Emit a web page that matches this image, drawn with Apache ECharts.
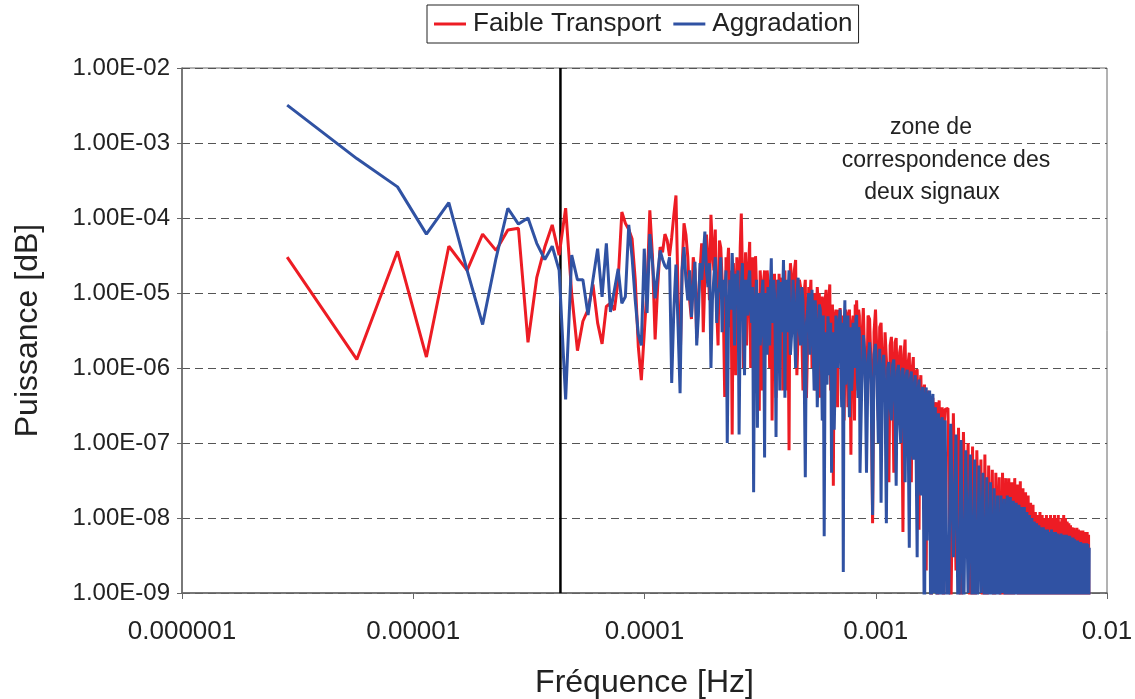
<!DOCTYPE html>
<html lang="fr">
<head>
    <meta charset="UTF-8">
    <title>Puissance spectrale</title>
    <script src="https://cdn.jsdelivr.net/npm/echarts@6.0.0/dist/echarts.min.js"></script>
    <style>
        html, body { margin: 0; padding: 0; background: #fff; }
        #chart { width: 1135px; height: 699px; }
    </style>
</head>
<body>
<div id="chart"></div>
<script type="text/javascript">
    // spectrum bins (index of the frequency step), same for both signals
    var binWidth = 2.85e-6;   // Hz
    var bins = [
        1, 2, 3, 4, 5, 6, 7, 8, 9, 10, 11, 12, 13, 14, 15, 16, 17, 18, 19, 20,
        21, 22, 23, 24, 25, 26, 27, 28, 29, 30, 31, 32, 33, 34, 35, 36, 37, 38, 39, 40,
        41, 42, 43, 44, 45, 46, 47, 48, 49, 50,
        51, 52, 53, 54, 55, 56, 57, 58, 59, 60, 61, 62, 63, 64, 65, 66, 67, 68, 69, 70,
        71, 72, 73, 74, 75, 76, 77, 78, 79, 80, 81, 82, 83, 84, 85, 86, 87, 88, 89, 90,
        91, 92, 93, 94, 95, 96, 97, 98, 99, 100, 101, 102, 103, 104, 105, 106, 107, 108, 109, 110,
        111, 112, 113, 114, 115, 116, 117, 118, 119, 120, 121, 122, 123, 124, 125, 126, 127, 128, 129, 130,
        131, 132, 133, 134, 135, 136, 137, 138, 139, 140, 141, 142, 143, 144, 145, 146, 147, 148, 149, 150,
        152, 154, 156, 158, 160, 162, 164, 166, 168, 170, 172, 174, 176, 178, 180, 182, 184, 186, 188, 190,
        192, 194, 196, 198, 200, 202, 204, 206, 208, 210, 212, 214, 216, 218, 220, 222, 224, 226, 228, 230,
        232, 234, 236, 238, 240, 242, 244, 246, 248, 250, 252, 254, 256, 258, 260, 262, 264, 266, 268, 270,
        272, 274, 276, 278, 280, 282, 284, 286, 288, 290, 292, 294, 296, 298, 300,
        305, 310, 315, 320, 325, 330, 335, 340, 345, 350, 355, 360, 365, 370, 375, 380, 385, 390, 395, 400,
        405, 410, 415, 420, 425, 430, 435, 440, 445, 450, 455, 460, 465, 470, 475, 480, 485, 490, 495, 500,
        505, 510, 515, 520, 525, 530, 535, 540, 545, 550, 555, 560, 565, 570, 575, 580, 585, 590, 595, 600,
        605, 610, 615, 620, 625, 630, 635, 640, 645, 650, 655, 660, 665, 670, 675, 680, 685, 690, 695, 700,
        720, 740, 760, 780, 800, 820, 840, 860, 880, 900, 920, 940, 960, 980, 1000, 1020, 1040, 1060, 1080, 1100,
        1120, 1140, 1160, 1180, 1200, 1220, 1240, 1260, 1280, 1300, 1320, 1340, 1360, 1380, 1400, 1420, 1440, 1460, 1480, 1500,
        1520, 1540, 1560, 1580, 1600, 1620, 1640, 1660, 1680, 1700, 1720, 1740, 1760, 1780, 1800, 1820, 1840, 1860, 1880, 1900,
        1920, 1940, 1960, 1980, 2000, 2020, 2040, 2060, 2080, 2100, 2120, 2140, 2160, 2180, 2200, 2220, 2240, 2260, 2280, 2300,
        2320, 2340, 2360, 2380, 2400, 2420, 2440, 2460, 2480, 2500, 2520, 2540, 2560, 2580, 2600, 2620, 2640, 2660, 2680, 2700,
        2720, 2740, 2760, 2780, 2800, 2820, 2840, 2860, 2880, 2900, 2920, 2940
    ];

    // Faible Transport
    var redPower = [
        // bins 1-50
        3.0e-5, 1.3e-6, 3.6e-5, 1.4e-6, 4.2e-5, 2.0e-5, 6.1e-5, 3.7e-5, 6.9e-5, 7.3e-5,
        2.2e-6, 1.6e-5, 4.1e-5, 8.1e-5, 3.2e-5, 1.35e-4, 9.7e-6, 1.7e-6, 4.2e-6, 6.0e-6,
        1.3e-5, 4.0e-6, 2.1e-6, 6.6e-6, 7.3e-6, 5.9e-6, 1.5e-5, 1.2e-4, 8.5e-5, 7.0e-5,
        5.3e-5, 1.5e-5, 1.9e-6, 6.9e-7, 2.9e-6, 1.2e-5, 1.27e-4, 3.0e-5, 2.4e-6, 1.2e-5,
        4.1e-5, 3.5e-5, 6.1e-5, 5.0e-5, 3.1e-5, 5.5e-5, 1.1e-4, 2.0e-4, 1.0e-5, 9.6e-7,
        // bins 51-150
        2.0e-5, 8.5e-5, 6.0e-5, 3.0e-5, 8.0e-6, 4.5e-6, 3.0e-5, 2.0e-5, 2.5e-6, 9.0e-6,
        2.0e-5, 4.6e-5, 3.0e-6, 1.5e-5, 6.0e-5, 3.0e-5, 8.0e-6, 1.1e-4, 4.0e-5, 2.0e-5,
        7.0e-5, 6.0e-6, 2.0e-6, 5.0e-5, 4.0e-5, 1.5e-5, 5.0e-6, 4.1e-7, 3.0e-5, 2.0e-5,
        4.0e-5, 3.5e-6, 2.0e-5, 1.3e-7, 2.5e-5, 1.0e-5, 8.0e-7, 3.0e-5, 1.5e-5, 4.0e-6,
        4.0e-5, 1.15e-4, 2.0e-5, 1.0e-6, 1.0e-5, 3.5e-5, 2.0e-6, 8.0e-6, 2.5e-5, 4.8e-5,
        1.0e-6, 5.0e-6, 3.0e-5, 1.5e-5, 4.0e-6, 3.1e-5, 1.2e-5, 2.0e-6, 8.0e-6, 2.7e-7,
        2.0e-5, 1.2e-5, 5.0e-7, 2.5e-6, 1.5e-5, 2.0e-5, 2.0e-6, 6.0e-6, 2.0e-5, 1.5e-5,
        5.0e-6, 1.0e-6, 1.5e-5, 1.0e-5, 2.0e-7, 2.5e-6, 1.2e-5, 1.8e-5, 6.0e-6, 4.0e-7,
        1.5e-5, 8.0e-6, 1.0e-6, 1.8e-5, 8.0e-6, 1.5e-6, 1.6e-5, 1.2e-5, 5.0e-7, 3.0e-6,
        1.2e-5, 2.0e-5, 3.0e-6, 5.0e-7, 1.0e-5, 1.2e-5, 1.5e-6, 8.0e-8, 6.0e-6, 2.5e-5,
        // bins 152-300
        1.5e-5, 5.0e-6, 2.0e-5, 2.75e-5, 8.0e-7, 3.0e-6, 1.5e-5, 1.2e-5, 3.0e-6, 5.0e-7,
        1.0e-5, 1.5e-5, 4.0e-7, 2.0e-6, 1.2e-5, 8.0e-6, 1.5e-5, 1.0e-6, 6.0e-6, 1.0e-5,
        5.0e-7, 3.0e-6, 1.2e-5, 7.0e-6, 1.0e-5, 4.0e-7, 5.0e-6, 9.0e-6, 2.0e-7, 2.0e-6,
        8.0e-6, 1.1e-5, 4.0e-6, 1.0e-6, 8.0e-6, 1.3e-5, 5.0e-7, 2.0e-6, 7.0e-6, 2.7e-8,
        4.0e-6, 5.0e-6, 6.0e-6, 1.5e-6, 3.0e-7, 6.0e-6, 2.0e-6, 6.3e-6, 4.0e-6, 8.0e-7,
        5.0e-6, 4.0e-6, 2.0e-7, 1.0e-6, 6.0e-6, 5.0e-6, 1.5e-6, 3.0e-7, 5.0e-6, 6.0e-6,
        1.0e-6, 7.0e-8, 3.0e-6, 4.0e-6, 5.0e-6, 1.5e-6, 2.0e-7, 7.0e-6, 3.0e-6, 8.0e-6,
        4.0e-6, 5.0e-7, 6.0e-6, 5.0e-6, 1.0e-6,
        // bins 305-700
        2.0e-6, 6.3e-6, 1.0e-6, 3.0e-7, 5.0e-6, 4.5e-6, 1.0e-6, 8.5e-9, 3.0e-6, 6.0e-6,
        1.5e-6, 2.0e-7, 3.5e-6, 4.0e-6, 8.0e-7, 5.0e-7, 3.0e-6, 3.0e-6, 6.0e-7, 3.0e-8,
        2.0e-6, 2.6e-6, 8.0e-7, 4.0e-8, 2.2e-6, 2.5e-6, 5.0e-7, 2.0e-7, 1.6e-6, 2.0e-6,
        4.0e-7, 6.5e-9, 1.5e-6, 2.4e-6, 3.0e-7, 1.0e-7, 1.2e-6, 1.6e-6, 2.0e-7, 3.0e-8,
        1.0e-6, 1.4e-6, 2.0e-7, 2.0e-7, 9.0e-7, 9.6e-7, 1.5e-7, 7.0e-9, 6.0e-7, 8.0e-7,
        1.0e-7, 5.0e-8, 5.0e-7, 6.0e-7, 1.0e-7, 2.0e-9, 4.0e-7, 5.0e-7, 5.0e-8, 4.3e-7,
        2.0e-7, 3.0e-10, 3.5e-7, 4.0e-7, 3.0e-8, 8.0e-9, 3.0e-7, 3.5e-7, 2.0e-8, 2.0e-10,
        2.5e-7, 3.7e-7, 1.0e-8, 5.0e-9, 2.5e-7, 3.0e-7, 5.0e-9, 1.0e-10, 2.0e-7, 2.8e-7,
        // bins 720-2940
        2.9e-7, 3.0e-10, 2.5e-7, 2.0e-9, 1.6e-7, 1.0e-10, 1.4e-7, 5.0e-9, 1.0e-7, 1.0e-10,
        9.0e-8, 1.0e-10, 8.0e-8, 3.0e-9, 6.0e-8, 1.0e-10, 7.0e-8, 2.0e-10, 5.0e-8, 1.0e-9,
        4.4e-8, 1.0e-10, 4.0e-8, 2.0e-9, 3.5e-8, 1.0e-10, 4.0e-8, 5.0e-10, 3.4e-8, 1.0e-10,
        3.4e-8, 1.0e-10, 3.0e-8, 2.0e-10, 3.4e-8, 1.0e-9, 2.8e-8, 1.0e-10, 3.1e-8, 1.0e-10,
        2.5e-8, 1.0e-10, 2.2e-8, 1.0e-10, 2.0e-8, 5.0e-10, 1.6e-8, 1.0e-10, 1.5e-8, 1.0e-10,
        1.2e-8, 1.0e-10, 1.1e-8, 2.0e-10, 1.2e-8, 1.0e-10, 1.1e-8, 1.0e-10, 1.0e-8, 1.0e-10,
        1.1e-8, 1.0e-10, 1.0e-8, 1.0e-10, 1.1e-8, 1.0e-10, 1.0e-8, 1.0e-10, 1.1e-8, 1.0e-10,
        1.0e-8, 1.0e-10, 1.1e-8, 1.0e-10, 9.0e-9, 1.0e-10, 1.0e-8, 1.0e-10, 1.1e-8, 1.0e-10,
        1.0e-8, 1.0e-10, 9.0e-9, 1.0e-10, 8.5e-9, 1.0e-10, 8.0e-9, 1.0e-10, 7.5e-9, 1.0e-10,
        7.4e-9, 1.0e-10, 7.0e-9, 1.0e-10, 7.4e-9, 1.0e-10, 7.0e-9, 1.0e-10, 6.8e-9, 1.0e-10,
        6.5e-9, 1.0e-10, 6.8e-9, 1.0e-10, 6.5e-9, 1.0e-10, 6.2e-9, 1.0e-10, 6.5e-9, 1.0e-10,
        6.0e-9, 1.0e-10
    ];

    // Aggradation
    var bluePower = [
        // bins 1-50
        3.2e-3, 6.2e-4, 2.6e-4, 6.1e-5, 1.6e-4, 2.0e-5, 3.8e-6, 2.9e-5, 1.35e-4, 8.3e-5,
        1.0e-4, 4.6e-5, 2.8e-5, 4.2e-5, 2.0e-5, 3.8e-7, 3.2e-5, 1.5e-5, 1.5e-5, 5.1e-6,
        1.5e-5, 3.9e-5, 8.9e-6, 4.6e-5, 5.6e-6, 1.1e-5, 2.1e-5, 7.3e-6, 8.9e-6, 8.1e-5,
        3.0e-5, 8.0e-6, 2.8e-6, 2.0e-6, 3.9e-5, 5.4e-6, 6.1e-5, 2.5e-5, 8.5e-6, 1.8e-5,
        3.7e-5, 2.8e-5, 2.3e-5, 2.1e-5, 3.0e-5, 6.3e-7, 6.0e-6, 2.4e-5, 3.6e-6, 4.6e-7,
        // bins 51-150
        2.0e-5, 4.1e-5, 1.5e-5, 8.0e-6, 2.0e-5, 4.8e-6, 1.2e-5, 2.6e-5, 2.0e-6, 5.0e-6,
        2.5e-5, 1.5e-5, 3.0e-5, 6.6e-5, 2.0e-5, 1.2e-5, 2.5e-5, 1.0e-6, 8.0e-6, 1.6e-5,
        3.0e-5, 4.0e-6, 1.0e-5, 1.2e-5, 3.0e-5, 3.0e-6, 1.5e-5, 9.0e-6, 2.0e-5, 1.0e-7,
        5.0e-6, 1.5e-5, 6.0e-6, 3.4e-5, 1.2e-5, 2.0e-6, 1.8e-5, 8.0e-6, 2.0e-5, 1.3e-7,
        4.0e-6, 1.2e-5, 2.5e-5, 3.0e-6, 8.0e-7, 1.5e-5, 1.0e-5, 5.0e-6, 1.5e-5, 2.0e-5,
        6.0e-6, 4.0e-6, 1.2e-5, 2.2e-8, 5.0e-6, 8.0e-6, 1.5e-5, 1.6e-7, 4.0e-6, 1.0e-5,
        2.0e-6, 3.0e-6, 1.0e-5, 1.5e-5, 4.0e-6, 6.4e-8, 1.0e-5, 6.0e-6, 1.5e-6, 1.2e-5,
        8.0e-6, 2.0e-6, 1.2e-5, 2.9e-5, 4.0e-6, 5.0e-6, 1.5e-5, 1.0e-5, 2.0e-6, 1.2e-7,
        4.0e-6, 8.0e-6, 1.5e-5, 2.0e-6, 5.0e-7, 1.4e-5, 6.0e-6, 3.0e-6, 1.0e-5, 2.75e-5,
        8.0e-6, 4.0e-7, 6.0e-6, 1.5e-5, 3.0e-6, 5.0e-6, 1.2e-5, 2.0e-5, 4.0e-6, 1.5e-6,
        // bins 152-300
        3.0e-6, 1.5e-5, 4.0e-6, 1.0e-6, 1.0e-5, 1.6e-5, 3.0e-6, 2.0e-6, 1.2e-5, 8.0e-6,
        1.0e-6, 3.5e-8, 4.0e-6, 6.0e-6, 1.0e-5, 1.5e-6, 5.0e-6, 1.1e-5, 2.0e-6, 5.0e-7,
        8.0e-6, 4.0e-6, 3.0e-7, 1.0e-6, 7.0e-6, 6.0e-6, 1.5e-6, 2.0e-7, 5.0e-6, 5.7e-9,
        2.0e-6, 3.0e-6, 6.0e-7, 4.9e-6, 3.0e-6, 8.0e-7, 4.0e-6, 4.0e-8, 2.0e-6, 3.0e-6,
        1.5e-7, 6.0e-7, 5.0e-6, 4.0e-6, 1.0e-6, 1.0e-6, 4.0e-6, 6.0e-6, 1.0e-6, 3.0e-7,
        4.0e-6, 1.9e-9, 3.0e-6, 8.0e-6, 6.0e-7, 1.0e-6, 4.0e-6, 5.0e-6, 1.0e-6, 2.2e-7,
        3.5e-6, 3.0e-6, 5.0e-7, 8.0e-7, 4.0e-6, 4.0e-6, 1.0e-6, 1.5e-6, 4.5e-6, 5.1e-6,
        8.0e-7, 4.0e-7, 3.5e-6, 3.0e-6, 4.0e-8,
        // bins 305-700
        5.0e-7, 2.75e-6, 1.5e-6, 4.0e-8, 1.2e-6, 2.2e-6, 6.0e-7, 1.1e-8, 1.5e-6, 2.1e-6,
        8.0e-7, 1.0e-7, 1.8e-6, 1.6e-8, 1.0e-6, 1.5e-6, 4.0e-7, 8.5e-9, 1.0e-6, 1.2e-6,
        3.0e-7, 2.0e-7, 1.1e-6, 1.3e-6, 3.0e-7, 2.7e-8, 9.0e-7, 1.1e-6, 2.0e-7, 1.0e-7,
        9.0e-7, 1.0e-6, 1.5e-7, 3.0e-8, 8.0e-7, 9.5e-7, 1.0e-7, 4.0e-9, 7.0e-7, 9.0e-7,
        8.0e-8, 6.0e-8, 6.0e-7, 8.0e-7, 5.0e-8, 3.0e-9, 5.0e-7, 7.0e-7, 3.0e-8, 2.0e-8,
        4.5e-7, 5.6e-7, 1.0e-8, 1.0e-10, 4.0e-7, 5.5e-7, 5.0e-9, 5.0e-9, 4.0e-7, 5.0e-7,
        1.0e-9, 1.0e-10, 3.5e-7, 4.5e-7, 1.0e-9, 2.0e-9, 3.0e-7, 3.0e-7, 5.0e-10, 1.0e-10,
        2.5e-7, 2.5e-7, 5.0e-10, 3.0e-9, 2.0e-7, 2.2e-7, 2.0e-10, 1.0e-10, 1.8e-7, 2.0e-7,
        // bins 720-2940
        1.0e-10, 1.8e-7, 3.0e-9, 1.3e-7, 1.0e-10, 1.1e-7, 2.0e-10, 8.0e-8, 1.0e-9, 7.0e-8,
        2.0e-10, 6.0e-8, 1.0e-10, 5.0e-8, 1.0e-9, 4.0e-8, 1.0e-10, 3.5e-8, 3.0e-10, 3.0e-8,
        1.0e-10, 2.5e-8, 3.0e-10, 2.0e-8, 1.0e-10, 2.0e-8, 1.0e-9, 1.8e-8, 1.0e-10, 2.0e-8,
        2.0e-10, 1.9e-8, 1.0e-10, 1.7e-8, 1.0e-10, 1.6e-8, 3.0e-10, 1.5e-8, 1.0e-10, 1.4e-8,
        1.0e-10, 1.4e-8, 2.0e-10, 1.2e-8, 1.0e-10, 1.1e-8, 1.0e-10, 1.0e-8, 2.0e-10, 9.0e-9,
        1.0e-10, 8.5e-9, 1.0e-10, 8.0e-9, 1.0e-10, 7.5e-9, 1.0e-10, 7.5e-9, 1.0e-10, 7.0e-9,
        1.0e-10, 7.0e-9, 1.0e-10, 6.5e-9, 1.0e-10, 7.0e-9, 1.0e-10, 6.5e-9, 1.0e-10, 6.5e-9,
        1.0e-10, 6.2e-9, 1.0e-10, 6.0e-9, 1.0e-10, 6.2e-9, 1.0e-10, 6.0e-9, 1.0e-10, 6.0e-9,
        1.0e-10, 6.0e-9, 1.0e-10, 5.8e-9, 1.0e-10, 5.8e-9, 1.0e-10, 5.5e-9, 1.0e-10, 5.5e-9,
        1.0e-10, 5.2e-9, 1.0e-10, 5.0e-9, 1.0e-10, 5.0e-9, 1.0e-10, 4.8e-9, 1.0e-10, 4.8e-9,
        1.0e-10, 4.6e-9, 1.0e-10, 4.6e-9, 1.0e-10, 4.5e-9, 1.0e-10, 4.6e-9, 1.0e-10, 4.5e-9,
        1.0e-10, 4.0e-9
    ];

    var boundaryFreq = 4.33e-5;   // vertical black line
    var xTickLabels = ['0.000001', '0.00001', '0.0001', '0.001', '0.01'];
    var yTickLabels = ['1.00E-09', '1.00E-08', '1.00E-07', '1.00E-06', '1.00E-05', '1.00E-04', '1.00E-03', '1.00E-02'];
    var seriesNames = ['Faible Transport', 'Aggradation'];
    var noteLines = ['zone de', 'correspondence des', 'deux signaux'];

    function toPoints(power) {
        var pts = [];
        for (var i = 0; i < bins.length; i++) {
            pts.push([bins[i] * binWidth, power[i]]);
        }
        return pts;
    }

    var font = '"Liberation Sans", Arial, sans-serif';
    var axisColor = '#666';
    var red = '#ED1C24';
    var blue = '#3052A3';

    var myChart = echarts.init(document.getElementById('chart'), null, {renderer: 'canvas'});
    var option = {
        animation: false,
        backgroundColor: '#fff',
        textStyle: {fontFamily: font, color: '#222'},
        legend: {
            left: 427,
            top: 5,
            padding: [6, 6, 6, 7],
            borderColor: '#222',
            borderWidth: 1,
            itemGap: 12,
            itemWidth: 32,
            itemHeight: 3,
            icon: 'rect',
            textStyle: {fontSize: 26, color: '#222', fontFamily: font, padding: [0, 0, 0, 2]},
            data: seriesNames
        },
        grid: {
            left: 182,
            right: 28,
            top: 68,
            bottom: 106,
            containLabel: false,
            outerBoundsMode: 'none',
            show: true,
            borderColor: axisColor,
            borderWidth: 1
        },
        xAxis: {
            type: 'log',
            logBase: 10,
            min: 1e-6,
            max: 1e-2,
            splitNumber: 4,
            name: 'Fréquence [Hz]',
            nameLocation: 'middle',
            nameGap: 74,
            nameTextStyle: {fontSize: 32, color: '#222', fontFamily: font},
            axisLine: {show: true, lineStyle: {color: axisColor, width: 1.5}},
            axisTick: {show: true, length: 6, lineStyle: {color: axisColor}},
            splitLine: {show: false},
            axisLabel: {
                fontSize: 26,
                margin: 26,
                color: '#222',
                formatter: function (v) {
                    return xTickLabels[Math.round(Math.log10(v)) + 6];
                }
            }
        },
        yAxis: {
            type: 'log',
            logBase: 10,
            min: 1e-9,
            max: 1e-2,
            splitNumber: 7,
            name: 'Puissance [dB]',
            nameLocation: 'middle',
            nameGap: 138,
            nameTextStyle: {fontSize: 32, color: '#222', fontFamily: font},
            axisLine: {show: true, lineStyle: {color: axisColor, width: 1.5}},
            axisTick: {show: true, length: 5, lineStyle: {color: axisColor}},
            splitLine: {show: true, lineStyle: {color: '#555', width: 1, type: [8, 5]}},
            axisLabel: {
                fontSize: 24,
                margin: 12,
                color: '#222',
                formatter: function (v) {
                    return yTickLabels[Math.round(Math.log10(v)) + 9];
                }
            }
        },
        graphic: [
            {type: 'text', style: {text: noteLines[0], x: 931, y: 128, textAlign: 'center', textVerticalAlign: 'middle', font: '23px ' + font, fill: '#222'}},
            {type: 'text', style: {text: noteLines[1], x: 946, y: 161, textAlign: 'center', textVerticalAlign: 'middle', font: '23px ' + font, fill: '#222'}},
            {type: 'text', style: {text: noteLines[2], x: 932, y: 193, textAlign: 'center', textVerticalAlign: 'middle', font: '23px ' + font, fill: '#222'}}
        ],
        series: [
            {
                name: 'boundary',
                type: 'line',
                data: [[boundaryFreq, 1e-9], [boundaryFreq, 1e-2]],
                symbol: 'none',
                silent: true,
                lineStyle: {color: '#000', width: 2.5},
                z: 1
            },
            {
                name: seriesNames[0],
                type: 'line',
                data: toPoints(redPower),
                symbol: 'none',
                clip: true,
                itemStyle: {color: red},
                lineStyle: {color: red, width: 3},
                z: 2
            },
            {
                name: seriesNames[1],
                type: 'line',
                data: toPoints(bluePower),
                symbol: 'none',
                clip: true,
                itemStyle: {color: blue},
                lineStyle: {color: blue, width: 3},
                z: 3
            }
        ]
    };
    myChart.setOption(option);
</script>
</body>
</html>
